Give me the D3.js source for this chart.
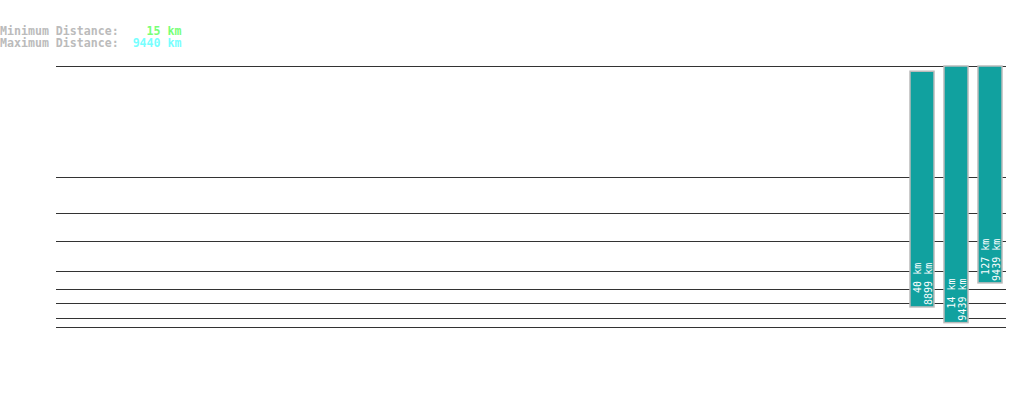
<!DOCTYPE html>
<html>
<head>
<meta charset="utf-8">
<script src="https://cdnjs.cloudflare.com/ajax/libs/d3/7.8.5/d3.min.js"></script>
<style>
  body { margin: 0; background: #fff; }
  text { font-family: "DejaVu Sans Mono", "Liberation Mono", monospace; white-space: pre; }
</style>
</head>
<body>
<svg id="mySVG" width="1019" height="402"></svg>
<script>
// trips, placed in their slot on the x band
var slotIndex = [25, 26, 27];
var minDist = [40, 14, 127];
var maxDist = [8899, 9439, 9439];

var summaryMin = 15;
var summaryMax = 9440;

// distance lines
var gridValues = [10, 20, 50, 100, 200, 500, 1000, 2000, 9440];

function drawDistances() {
	var svg = d3.select('#mySVG');

	var x = d3.scaleBand()
		.domain(d3.range(28))
		.range([60, 1002])
		.paddingInner(10 / 34)
		.paddingOuter(0);

	var y = d3.scalePow()
		.exponent(0.3)
		.domain([0, summaryMax])
		.range([365, 66]);

	// header
	var head = svg.append('g').style('font-size', '11.6px').style('font-weight', 'bold');
	var rows = [
		["Minimum Distance:", summaryMin, "#77ff77"],
		["Maximum Distance:", summaryMax, "#77ffff"]
	];
	head.selectAll('text')
		.data(rows)
		.enter()
		.append('text')
		.attr('x', 0)
		.attr('y', function(d, i) { return 35 + i * 12; })
		.each(function(d) {
			var t = d3.select(this);
			t.append('tspan').attr('fill', '#bbbbbb').text(d[0]);
			t.append('tspan').attr('fill', d[2]).text((d[1] + " km").padStart(9, " "));
		});

	// grid lines
	var axis = d3.axisLeft(y)
		.tickValues(gridValues)
		.tickSize(-(1006 - 56))
		.tickFormat("");
	var g = svg.append('g')
		.attr('transform', 'translate(56,0)')
		.call(axis);
	g.select('.domain').remove();
	g.selectAll('.tick line')
		.attr('stroke', '#333')
		.attr('shape-rendering', 'crispEdges');

	var data = slotIndex.map(function(s, i) {
		return { slot: s, min: minDist[i], max: maxDist[i] };
	});

	var bars = svg.selectAll('.trip')
		.data(data)
		.enter()
		.append('g')
		.attr('class', 'trip');

	bars.append('rect')
		.attr('x', function(d) { return x(d.slot); })
		.attr('y', function(d) { return y(d.max); })
		.attr('width', x.bandwidth())
		.attr('height', function(d) { return y(d.min) - y(d.max); })
		.attr('fill', '#11a19f')
		.attr('stroke', '#bbbbbb')
		.attr('stroke-width', 1.5);

	var lbl = bars.append('text')
		.attr('transform', function(d) {
			return 'translate(' + (x(d.slot) + 10.5) + ',' + (y(d.min) - 2) + ') rotate(-90)';
		})
		.attr('fill', '#fff')
		.style('font-size', '10px');
	lbl.append('tspan')
		.attr('x', 0)
		.text(function(d) { return (d.min + " km").padStart(7, " "); });
	lbl.append('tspan')
		.attr('x', 0)
		.attr('dy', 11)
		.text(function(d) { return (d.max + " km").padStart(7, " "); });
}

drawDistances();
</script>
</body>
</html>
